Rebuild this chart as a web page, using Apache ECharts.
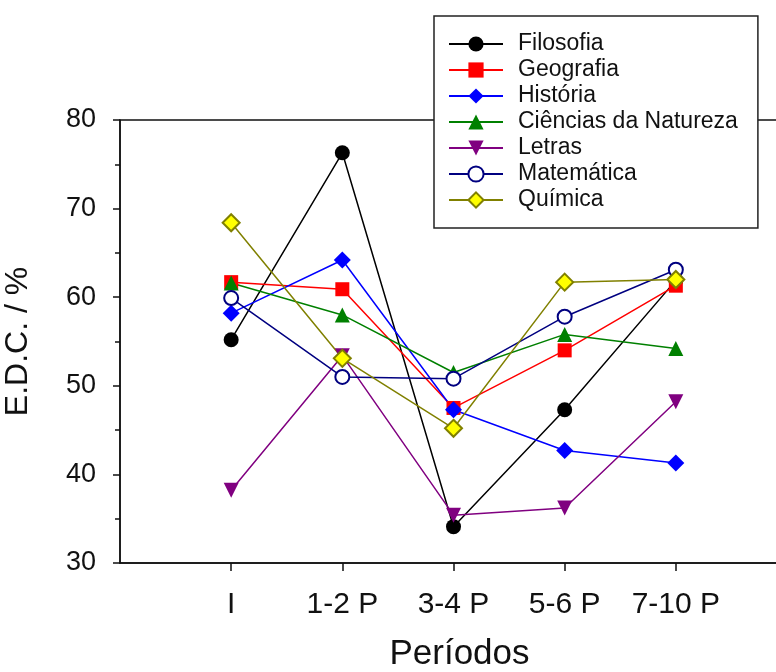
<!DOCTYPE html>
<html>
<head>
<meta charset="utf-8">
<script src="https://cdn.jsdelivr.net/npm/echarts@6/dist/echarts.min.js"></script>
<style>
  html, body { margin: 0; padding: 0; background: #fff; }
  #chartWrap { width: 776px; height: 672px; }
</style>
</head>
<body>
<div id="chartWrap"></div>
<script>
// periodos no eixo x
var categories = ['I', '1-2 P', '3-4 P', '5-6 P', '7-10 P'];
// E.D.C. (%) por curso
var filosofia  = [55.2, 76.3, 34.1, 47.3, 61.9];
var geografia  = [61.7, 60.9, 47.5, 54.0, 61.3];
var historia   = [58.2, 64.2, 47.3, 42.7, 41.3];
var ciencias   = [61.6, 58.0, 51.5, 55.8, 54.2];
var letras     = [38.2, 53.4, 35.4, 36.2, 48.2];
var matematica = [59.9, 51.0, 50.8, 57.8, 63.1];
var quimica    = [68.4, 53.1, 45.2, 61.7, 62.0];
var yTicks = [30, 40, 50, 60, 70, 80];

var font = 'Arial, "Liberation Sans", sans-serif';

// transforma valores em pares [posicao, valor]
function pares(arr){
	var out = [];
	for(var i = 0; i < arr.length; i++){
		out.push([i + 1, arr[i]]);
	}
	return out;
}

function serie(nome, dados, simbolo, tam, corLinha, corFundo, corBorda, rot){
	return {
		name: nome,
		type: 'line',
		data: pares(dados),
		symbol: simbolo,
		symbolSize: tam,
		symbolRotate: rot || 0,
		showAllSymbol: true,
		lineStyle: { color: corLinha, width: 1.5 },
		itemStyle: { color: corFundo, borderColor: corBorda, borderWidth: corBorda ? 2 : 0, opacity: 1 },
		emphasis: { disabled: true },
		animation: false
	};
}

var dom = document.getElementById('chartWrap');
var myChart = echarts.init(dom);

var option = {
	backgroundColor: '#fff',
	animation: false,
	legend: {
		orient: 'vertical',
		left: 434,
		top: 16,
		padding: [15, 20, 15, 14],
		itemWidth: 54,
		itemHeight: 19,
		itemGap: 0,
		borderColor: '#222',
		borderWidth: 1.5,
		backgroundColor: '#fff',
		textStyle: { fontSize: 23, fontFamily: font, color: '#111', lineHeight: 26, padding: [0, 0, 0, 10] },
		data: ['Filosofia', 'Geografia', 'História', 'Ciências da Natureza', 'Letras', 'Matemática', 'Química']
	},
	grid: {
		left: 120,
		top: 120,
		bottom: 109,
		width: 667,
		show: true,
		borderColor: '#111',
		borderWidth: 1.5,
		containLabel: false,
		outerBoundsMode: 'none'
	},
	xAxis: {
		type: 'value',
		min: 0,
		max: 6,
		interval: 1,
		name: 'Períodos',
		nameLocation: 'middle',
		nameGap: 74,
		nameTextStyle: { fontSize: 35, fontFamily: font, color: '#111', padding: [0, 0, 0, 12] },
		axisLine: { lineStyle: { color: '#111', width: 1.5 } },
		axisTick: { show: true, length: 8, customValues: [1, 2, 3, 4, 5], lineStyle: { color: '#111', width: 1.5 } },
		axisLabel: {
			customValues: [1, 2, 3, 4, 5],
			margin: 27,
			fontSize: 30,
			fontFamily: font,
			color: '#111',
			formatter: function(v){ return categories[v - 1] || ''; }
		},
		splitLine: { show: false }
	},
	yAxis: {
		type: 'value',
		min: 30,
		max: 80,
		interval: 10,
		name: 'E.D.C. / %',
		nameLocation: 'middle',
		nameGap: 86,
		nameTextStyle: { fontSize: 32, fontFamily: font, color: '#111' },
		axisLine: { show: true, lineStyle: { color: '#111', width: 1.5 } },
		axisTick: { show: true, length: 7, lineStyle: { color: '#111', width: 1.5 } },
		minorTick: { show: true, splitNumber: 2, length: 5, lineStyle: { color: '#111', width: 1.5 } },
		axisLabel: {
			margin: 24,
			fontSize: 27,
			fontFamily: font,
			color: '#111',
			customValues: yTicks
		},
		splitLine: { show: false }
	},
	series: [
		serie('Filosofia', filosofia, 'circle', 15, '#000', '#000', null),
		serie('Geografia', geografia, 'rect', 14, '#ff0000', '#ff0000', null),
		serie('História', historia, 'diamond', 17, '#0000ff', '#0000ff', null),
		serie('Ciências da Natureza', ciencias, 'triangle', 15, '#008000', '#008000', null),
		serie('Letras', letras, 'triangle', 15, '#800080', '#800080', null, 180),
		serie('Matemática', matematica, 'circle', 14, '#000080', '#fff', '#000080'),
		serie('Química', quimica, 'diamond', 17, '#808000', '#ffff00', '#808000')
	]
};

if (option && typeof option === "object") {
	myChart.setOption(option, true);
}
</script>
</body>
</html>
